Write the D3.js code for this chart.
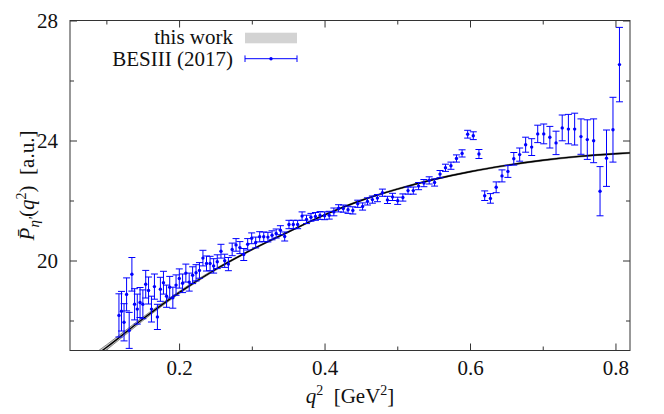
<!DOCTYPE html>
<html lang="en">
<head>
    <meta charset="UTF-8">
    <title>P eta' (q2)</title>
    <script src="https://cdnjs.cloudflare.com/ajax/libs/d3/7.8.5/d3.min.js"></script>
    <style>
        body {
            margin: 0;
            background-color: white;
        }

        svg text {
            font-family: "Liberation Serif", "DejaVu Serif", serif;
            fill: #111;
        }
    </style>
</head>
<body>
<svg id="chart" width="664" height="414"></svg>
<script>
    // BESIII (2017) points, q^2 in GeV^2
    const q2 = [
        0.1173, 0.1208, 0.1243, 0.1278, 0.1314, 0.1351, 0.1388, 0.1425, 0.1463, 0.1502,
        0.1541, 0.1580, 0.1620, 0.1661, 0.1702, 0.1743, 0.1785, 0.1828, 0.1871, 0.1914,
        0.1958, 0.2003, 0.2048, 0.2093, 0.2139, 0.2186, 0.2233, 0.2280, 0.2328, 0.2377,
        0.2426, 0.2475, 0.2525, 0.2576, 0.2627, 0.2678, 0.2730, 0.2783, 0.2836, 0.2889,
        0.2943, 0.2998, 0.3053, 0.3108, 0.3164, 0.3221, 0.3278, 0.3335, 0.3393, 0.3452,
        0.3511, 0.3570, 0.3630, 0.3691, 0.3752, 0.3813, 0.3875, 0.3938, 0.4001, 0.4064,
        0.4128, 0.4193, 0.4258, 0.4323, 0.4389, 0.4456, 0.4523, 0.4590, 0.4658, 0.4727,
        0.4796, 0.4865, 0.4935, 0.5006, 0.5077, 0.5148, 0.5220, 0.5293, 0.5366, 0.5439,
        0.5513, 0.5588, 0.5663, 0.5738, 0.5814, 0.5891, 0.5968, 0.6045, 0.6123, 0.6202,
        0.6281, 0.6360, 0.6440, 0.6521, 0.6602, 0.6683, 0.6765, 0.6848, 0.6931, 0.7014,
        0.7098, 0.7183, 0.7268, 0.7353, 0.7439, 0.7526, 0.7613, 0.7700, 0.7788, 0.7877,
        0.7966, 0.8055
    ];
    const pEta = [
        18.17, 18.31, 17.94, 18.87, 17.67, 19.54, 18.54, 18.38, 18.60, 18.54,
        19.21, 19.00, 18.38, 19.13, 18.12, 19.04, 19.26, 18.81, 19.11, 18.76,
        19.18, 19.40, 19.24, 19.58, 19.28, 19.51, 19.59, 19.67, 20.08, 19.90,
        19.90, 19.82, 19.96, 20.31, 19.99, 19.88, 20.37, 20.52, 20.43, 20.20,
        20.54, 20.74, 20.60, 20.79, 20.79, 20.78, 20.84, 20.90, 21.01, 20.80,
        21.20, 21.20, 21.20, 21.48, 21.37, 21.44, 21.47, 21.50, 21.49, 21.51,
        21.62, 21.74, 21.73, 21.69, 21.67, 21.89, 21.80, 21.97, 22.03, 22.08,
        22.26, 22.02, 22.12, 21.99, 22.10, 22.33, 22.33, 22.48, 22.58, 22.67,
        22.60, 22.88, 23.09, 23.16, 23.40, 23.57, 24.21, 24.16, 23.55, 22.16,
        22.07, 22.44, 22.82, 22.97, 23.39, 23.53, 23.86, 23.78, 24.22, 24.22,
        24.11, 23.92, 24.42, 24.38, 24.38, 24.13, 24.03, 23.99, 22.31, 23.41,
        24.36, 26.53
    ];
    const pErr = [
        0.72, 0.66, 0.62, 0.55, 0.60, 0.56, 0.52, 0.50, 0.50, 0.48,
        0.46, 0.45, 0.43, 0.42, 0.42, 0.40, 0.38, 0.37, 0.36, 0.35,
        0.34, 0.32, 0.31, 0.30, 0.30, 0.28, 0.27, 0.26, 0.26, 0.25,
        0.24, 0.24, 0.23, 0.23, 0.22, 0.22, 0.21, 0.21, 0.20, 0.20,
        0.19, 0.18, 0.18, 0.17, 0.16, 0.16, 0.15, 0.15, 0.15, 0.15,
        0.14, 0.14, 0.14, 0.14, 0.14, 0.13, 0.13, 0.13, 0.13, 0.13,
        0.13, 0.12, 0.12, 0.12, 0.12, 0.12, 0.12, 0.12, 0.12, 0.12,
        0.12, 0.12, 0.12, 0.12, 0.12, 0.12, 0.12, 0.12, 0.12, 0.12,
        0.12, 0.12, 0.12, 0.12, 0.12, 0.12, 0.13, 0.13, 0.15, 0.16,
        0.16, 0.18, 0.20, 0.20, 0.21, 0.22, 0.25, 0.28, 0.29, 0.33,
        0.36, 0.39, 0.43, 0.49, 0.53, 0.59, 0.66, 0.73, 0.82, 0.94,
        1.08, 1.24
    ];

    // "this work" curve and its band
    const curveQ2 = [0.09, 0.10, 0.15, 0.20, 0.25, 0.30, 0.35, 0.40, 0.45, 0.50, 0.55, 0.60, 0.65, 0.70, 0.75, 0.80, 0.83];
    const curveVal = [16.92, 17.10, 18.05, 18.93, 19.70, 20.36, 20.95, 21.52, 22.00, 22.38, 22.70, 22.96, 23.17, 23.34, 23.47, 23.56, 23.60];
    const curveErr = [0.09, 0.085, 0.06, 0.04, 0.03, 0.02, 0.02, 0.02, 0.02, 0.02, 0.02, 0.02, 0.02, 0.02, 0.02, 0.02, 0.02];

    const xTicks = [0.2, 0.4, 0.6, 0.8];
    const xMinorTicks = [0.1, 0.3, 0.5, 0.7];
    const yTicks = [20, 24, 28];
    const yMinorTicks = [18, 22, 26];

    const plotLeft = 70, plotRight = 630, plotTop = 20.5, plotBottom = 350.5;
    const blue = '#0000ff';

    const x = d3.scaleLinear().domain([0.05, 0.82]).range([plotLeft, plotRight]);
    const y = d3.scaleLinear().domain([17, 28]).range([plotBottom, plotTop]);

    const svg = d3.select('#chart');

    svg.append('defs').append('clipPath').attr('id', 'plot-area')
        .append('rect')
        .attr('x', plotLeft).attr('y', plotTop)
        .attr('width', plotRight - plotLeft).attr('height', plotBottom - plotTop);

    // axes, ticks pointing inward on all four sides
    function styleAxis(g) {
        g.select('.domain').remove();
        g.attr('color', '#333')
            .attr('font-family', null)
            .attr('font-size', 21);
        g.selectAll('line').attr('stroke-width', 1);
    }

    svg.append('g')
        .attr('transform', `translate(0, ${plotBottom})`)
        .call(d3.axisBottom(x).tickValues(xTicks).tickSizeInner(-7).tickSizeOuter(0)
            .tickPadding(10).tickFormat(d3.format('.1f')))
        .call(styleAxis);
    svg.append('g')
        .attr('transform', `translate(0, ${plotBottom})`)
        .call(d3.axisBottom(x).tickValues(xMinorTicks).tickSizeInner(-4).tickSizeOuter(0).tickFormat(''))
        .call(styleAxis);
    svg.append('g')
        .attr('transform', `translate(0, ${plotTop})`)
        .call(d3.axisTop(x).tickValues(xTicks).tickSizeInner(-7).tickSizeOuter(0).tickFormat(''))
        .call(styleAxis);
    svg.append('g')
        .attr('transform', `translate(0, ${plotTop})`)
        .call(d3.axisTop(x).tickValues(xMinorTicks).tickSizeInner(-4).tickSizeOuter(0).tickFormat(''))
        .call(styleAxis);

    svg.append('g')
        .attr('transform', `translate(${plotLeft}, 0)`)
        .call(d3.axisLeft(y).tickValues(yTicks).tickSizeInner(-7).tickSizeOuter(0).tickPadding(12))
        .call(styleAxis);
    svg.append('g')
        .attr('transform', `translate(${plotLeft}, 0)`)
        .call(d3.axisLeft(y).tickValues(yMinorTicks).tickSizeInner(-4).tickSizeOuter(0).tickFormat(''))
        .call(styleAxis);
    svg.append('g')
        .attr('transform', `translate(${plotRight}, 0)`)
        .call(d3.axisRight(y).tickValues(yTicks).tickSizeInner(-7).tickSizeOuter(0).tickFormat(''))
        .call(styleAxis);
    svg.append('g')
        .attr('transform', `translate(${plotRight}, 0)`)
        .call(d3.axisRight(y).tickValues(yMinorTicks).tickSizeInner(-4).tickSizeOuter(0).tickFormat(''))
        .call(styleAxis);

    const plot = svg.append('g').attr('clip-path', 'url(#plot-area)');

    // band + central curve
    const curveData = curveQ2.map((q, i) => ({q, v: curveVal[i], e: curveErr[i]}));
    plot.append('path')
        .datum(curveData)
        .attr('fill', '#cfcfcf')
        .attr('stroke', '#444')
        .attr('stroke-width', 0.6)
        .attr('d', d3.area()
            .x(d => x(d.q))
            .y0(d => y(d.v - d.e))
            .y1(d => y(d.v + d.e))
            .curve(d3.curveMonotoneX));
    plot.append('path')
        .datum(curveData)
        .attr('fill', 'none')
        .attr('stroke', 'black')
        .attr('stroke-width', 1.4)
        .attr('d', d3.line()
            .x(d => x(d.q))
            .y(d => y(d.v))
            .curve(d3.curveMonotoneX));

    // data points with error bars
    const points = q2.map((q, i) => ({q, v: pEta[i], e: pErr[i]}));
    const cap = 3.5;
    const bars = plot.append('g')
        .attr('stroke', blue)
        .attr('stroke-width', 1);

    bars.selectAll('.ebar')
        .data(points)
        .enter()
        .append('line')
        .attr('class', 'ebar')
        .attr('x1', d => x(d.q)).attr('x2', d => x(d.q))
        .attr('y1', d => y(d.v - d.e)).attr('y2', d => y(d.v + d.e));
    bars.selectAll('.cap-hi')
        .data(points)
        .enter()
        .append('line')
        .attr('class', 'cap-hi')
        .attr('x1', d => x(d.q) - cap).attr('x2', d => x(d.q) + cap)
        .attr('y1', d => y(d.v + d.e)).attr('y2', d => y(d.v + d.e));
    bars.selectAll('.cap-lo')
        .data(points)
        .enter()
        .append('line')
        .attr('class', 'cap-lo')
        .attr('x1', d => x(d.q) - cap).attr('x2', d => x(d.q) + cap)
        .attr('y1', d => y(d.v - d.e)).attr('y2', d => y(d.v - d.e));

    plot.append('g').selectAll('circle')
        .data(points)
        .enter()
        .append('circle')
        .attr('cx', d => x(d.q))
        .attr('cy', d => y(d.v))
        .attr('r', 1.7)
        .attr('fill', blue);

    // frame
    svg.append('rect')
        .attr('x', plotLeft).attr('y', plotTop)
        .attr('width', plotRight - plotLeft).attr('height', plotBottom - plotTop)
        .attr('fill', 'none')
        .attr('stroke', '#333')
        .attr('stroke-width', 1);

    // legend
    const legend = svg.append('g').attr('font-size', 21);
    legend.append('text')
        .attr('x', 233).attr('y', 44)
        .attr('text-anchor', 'end')
        .text('this work');
    legend.append('rect')
        .attr('x', 245).attr('y', 32.7)
        .attr('width', 52).attr('height', 10.6)
        .attr('fill', '#d3d3d3');
    legend.append('text')
        .attr('x', 233).attr('y', 65.5)
        .attr('text-anchor', 'end')
        .text('BESIII (2017)');
    const lg = legend.append('g').attr('stroke', blue).attr('stroke-width', 1);
    lg.append('line').attr('x1', 245).attr('x2', 297).attr('y1', 58.7).attr('y2', 58.7);
    lg.append('line').attr('x1', 245).attr('x2', 245).attr('y1', 55.4).attr('y2', 62);
    lg.append('line').attr('x1', 297).attr('x2', 297).attr('y1', 55.4).attr('y2', 62);
    legend.append('circle').attr('cx', 271).attr('cy', 58.7).attr('r', 1.7).attr('fill', blue);

    // axis titles
    const xTitle = svg.append('text')
        .attr('x', (plotLeft + plotRight) / 2).attr('y', 403)
        .attr('text-anchor', 'middle')
        .attr('font-size', 21);
    xTitle.append('tspan').attr('font-style', 'italic').text('q');
    xTitle.append('tspan').attr('font-size', 14).attr('dy', -8).text('2');
    xTitle.append('tspan').attr('dy', 8).text('\u2002[GeV');
    xTitle.append('tspan').attr('font-size', 14).attr('dy', -8).text('2');
    xTitle.append('tspan').attr('dy', 8).text(']');

    const yTitle = svg.append('text')
        .attr('transform', `translate(34, ${(plotTop + plotBottom) / 2}) rotate(-90)`)
        .attr('text-anchor', 'middle')
        .attr('font-size', 21);
    yTitle.append('tspan').attr('font-style', 'italic').text('P\u0304');
    yTitle.append('tspan').attr('font-style', 'italic').attr('font-size', 15).attr('dy', 5).text('\u03b7\u2032');
    yTitle.append('tspan').attr('dy', -5).text('(');
    yTitle.append('tspan').attr('font-style', 'italic').text('q');
    yTitle.append('tspan').attr('font-size', 14).attr('dy', -8).text('2');
    yTitle.append('tspan').attr('dy', 8).text(')\u2002[a.u.]');
</script>
</body>
</html>
